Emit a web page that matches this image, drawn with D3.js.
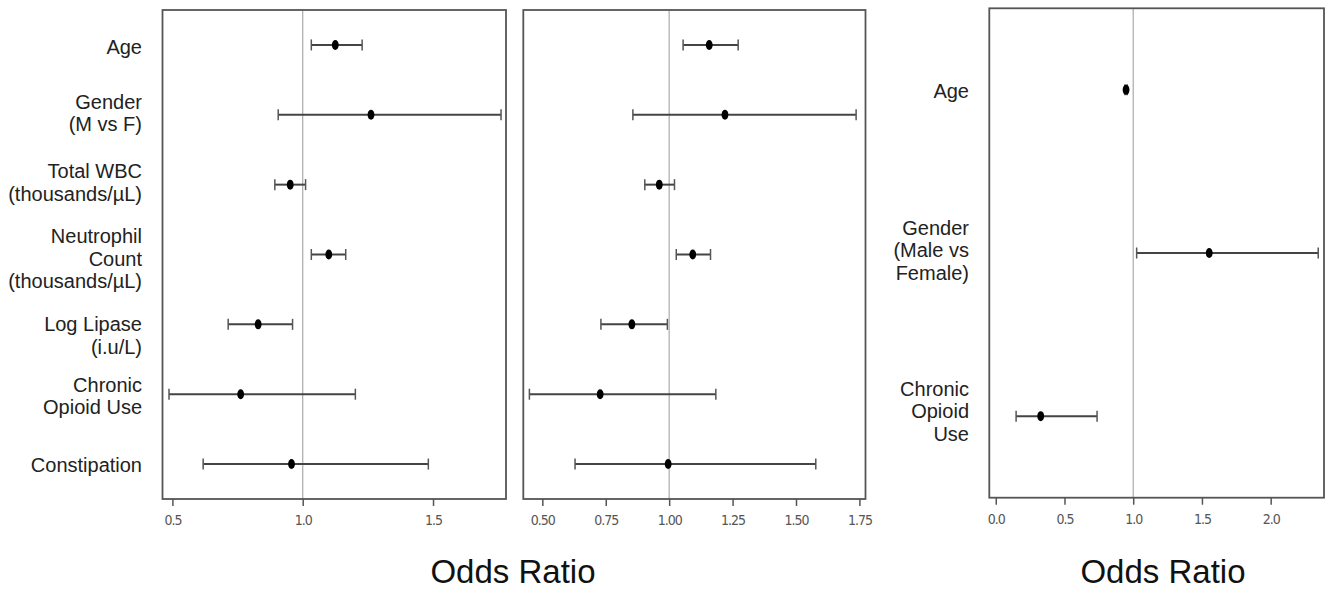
<!DOCTYPE html>
<html>
<head>
<meta charset="utf-8">
<script src="https://cdn.jsdelivr.net/npm/d3@7"></script>
<style>
  body { margin: 0; background: #fff; }
  .lab { font-family: Arial, "Liberation Sans", sans-serif; font-size: 20px; fill: #222; }
  .tick text { font-family: "Liberation Sans Narrow", "DejaVu Sans Condensed", sans-serif; font-size: 14px; fill: #555; letter-spacing: -1px; }
  .tick line { stroke: #555; stroke-width: 1.5; }
  .xtitle { font-family: Arial, "Liberation Sans", sans-serif; font-size: 33px; fill: #111; }
</style>
</head>
<body>
<div id="chart"></div>
<script>
var width = 1333,
    height = 593;

// left two panels share the same row labels
var labels7 = [["Age"], ["Gender", "(M vs F)"], ["Total WBC", "(thousands/\u00b5L)"],
  ["Neutrophil", "Count", "(thousands/\u00b5L)"], ["Log Lipase", "(i.u/L)"],
  ["Chronic", "Opioid Use"], ["Constipation"]];

// panel 1
var or1 = [1.125, 1.262, 0.952, 1.100, 0.829, 0.762, 0.957];
var lo1 = [1.033, 0.906, 0.893, 1.033, 0.714, 0.487, 0.618];
var hi1 = [1.228, 1.761, 1.011, 1.165, 0.961, 1.202, 1.482];
var ticks1 = [0.5, 1.0, 1.5];

// panel 2
var or2 = [1.158, 1.220, 0.961, 1.093, 0.853, 0.728, 0.996];
var lo2 = [1.055, 0.857, 0.904, 1.028, 0.731, 0.449, 0.629];
var hi2 = [1.272, 1.737, 1.021, 1.163, 0.993, 1.184, 1.578];
var ticks2 = [0.50, 0.75, 1.00, 1.25, 1.50, 1.75];

// panel 3
var labels3 = [["Age"], ["Gender", "(Male vs", "Female)"], ["Chronic", "Opioid", "Use"]];
var or3 = [0.948, 1.553, 0.327];
var lo3 = [0.940, 1.025, 0.148];
var hi3 = [0.956, 2.346, 0.737];
var ticks3 = [0.0, 0.5, 1.0, 1.5, 2.0];

var svg = d3.select("#chart").append("svg")
  .attr("width", width)
  .attr("height", height);

function panel(o) {
  var x = d3.scaleLinear().domain(o.domain).range([o.x0, o.x1]);
  var y = d3.scalePoint().domain(d3.range(o.or.length)).range([o.y0, o.y1]).padding(0.5);
  var g = svg.append("g");

  // reference line at OR = 1
  g.append("line")
    .attr("x1", x(1)).attr("x2", x(1))
    .attr("y1", o.y0).attr("y2", o.y1)
    .attr("stroke", "#aaa").attr("stroke-width", 1.2);

  var rows = g.selectAll(".row")
    .data(o.or.map(function (d, i) { return { or: d, lo: o.lo[i], hi: o.hi[i], i: i }; }))
    .enter().append("g")
    .attr("class", "row");

  rows.append("line")
    .attr("x1", function (d) { return x(d.lo); })
    .attr("x2", function (d) { return x(d.hi); })
    .attr("y1", function (d) { return y(d.i); })
    .attr("y2", function (d) { return y(d.i); })
    .attr("stroke", "#444").attr("stroke-width", 2);

  ["lo", "hi"].forEach(function (k) {
    rows.append("line")
      .attr("x1", function (d) { return x(d[k]); })
      .attr("x2", function (d) { return x(d[k]); })
      .attr("y1", function (d) { return y(d.i) - 5.5; })
      .attr("y2", function (d) { return y(d.i) + 5.5; })
      .attr("stroke", "#555").attr("stroke-width", 1.5);
  });

  rows.append("ellipse")
    .attr("cx", function (d) { return x(d.or); })
    .attr("cy", function (d) { return y(d.i); })
    .attr("rx", 3.4).attr("ry", 5)
    .attr("fill", "#000");

  // frame
  g.append("rect")
    .attr("x", o.x0).attr("y", o.y0)
    .attr("width", o.x1 - o.x0).attr("height", o.y1 - o.y0)
    .attr("fill", "none").attr("stroke", "#555").attr("stroke-width", 1.8);

  var ax = g.append("g")
    .attr("transform", "translate(0," + o.y1 + ")")
    .call(d3.axisBottom(x).tickValues(o.ticks).tickSize(7).tickPadding(9).tickFormat(d3.format(o.fmt)));
  ax.select(".domain").remove();

  // row labels (the original places some a little off-centre)
  if (o.labels) {
    var lh = 22.5;
    o.labels.forEach(function (lines, i) {
      var t = g.append("text")
        .attr("class", "lab")
        .attr("text-anchor", "end")
        .attr("x", o.labelX)
        .attr("y", y(i) - (lines.length - 1) * lh / 2 + o.labelDy + o.shift[i])
        .attr("dy", "0.35em");
      lines.forEach(function (s, j) {
        t.append("tspan").attr("x", o.labelX).attr("dy", j ? lh : 0).text(s);
      });
    });
  }
  return x;
}

panel({ domain: [0.462, 1.780], x0: 162.5, x1: 506, y0: 10, y1: 499,
  or: or1, lo: lo1, hi: hi1, ticks: ticks1, fmt: ".1f",
  labels: labels7, labelX: 142, labelDy: 5, shift: [4, 0, 0, 6, 13, 4, 3] });

panel({ domain: [0.425, 1.774], x0: 523.3, x1: 865.5, y0: 10, y1: 499,
  or: or2, lo: lo2, hi: hi2, ticks: ticks2, fmt: ".2f" });

panel({ domain: [-0.047, 2.388], x0: 989.3, x1: 1324, y0: 8.3, y1: 497.7,
  or: or3, lo: lo3, hi: hi3, ticks: ticks3, fmt: ".1f",
  labels: labels3, labelX: 969, labelDy: 3, shift: [5, 1, -1] });

// axis titles
svg.append("text").attr("class", "xtitle")
  .attr("x", 513).attr("y", 583).attr("text-anchor", "middle")
  .text("Odds Ratio");
svg.append("text").attr("class", "xtitle")
  .attr("x", 1163).attr("y", 583).attr("text-anchor", "middle")
  .text("Odds Ratio");
</script>
</body>
</html>
